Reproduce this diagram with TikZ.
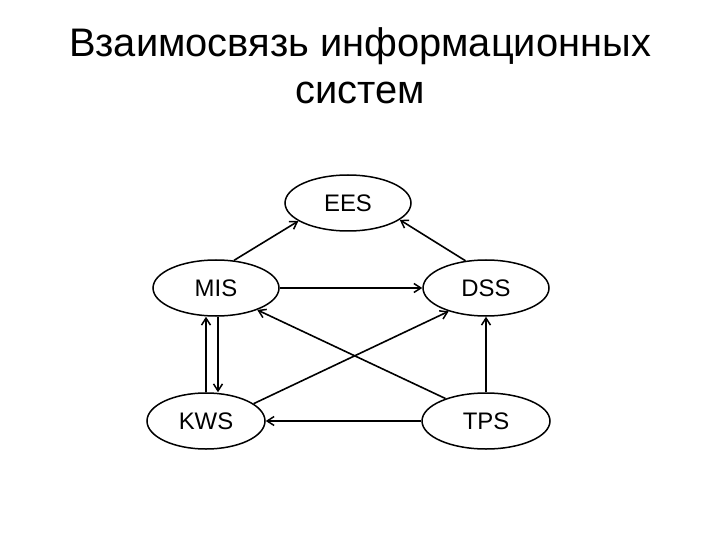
\documentclass[tikz,border=0pt]{standalone}
\usepackage{fontspec}
\setmainfont{Liberation Sans}
\usetikzlibrary{shapes.geometric, arrows.meta}

\tikzset{
    sysnode/.style={draw, ellipse, line width=1.5bp, minimum width=126bp, minimum height=56bp, inner sep=0pt, font=\fontsize{24}{26}\selectfont},
    link/.style={-{Straight Barb[length=7bp, width=9bp, line width=1.5bp]}, line width=1.6bp}
}

\begin{document}
\begin{tikzpicture}[x=1bp, y=-1bp]
        \useasboundingbox (0,0) rectangle (720,540);
        \node[anchor=north, align=center, font=\fontsize{40}{47}\selectfont] (title) at (360,24) {Взаимосвязь информационных\\систем};

        \node[sysnode] (EES) at (348,203) {EES};
        \node[sysnode] (MIS) at (216,288) {MIS};
        \node[sysnode] (DSS) at (486,288) {DSS};
        \node[sysnode, minimum width=118bp] (KWS) at (206,421) {KWS};
        \node[sysnode, minimum width=128bp] (TPS) at (486,421) {TPS};

        \draw[link] (MIS.57) -- (EES.200);
        \draw[link] (DSS.127) -- (EES.342);
        \draw[link] (MIS) -- (DSS);
        \draw[link] (TPS) -- (KWS);
        \draw[link] (TPS.north) -- (DSS.south);
        \draw[link] (KWS.north) -- ([xshift=-10bp]MIS.south);
        \draw[link] ([xshift=2bp]MIS.south) -- ([xshift=12bp]KWS.north);
        \draw[link] (TPS.151) -- (MIS.332);
        \draw[link] (KWS.20) -- (DSS.212);
    \end{tikzpicture}
\end{document}
